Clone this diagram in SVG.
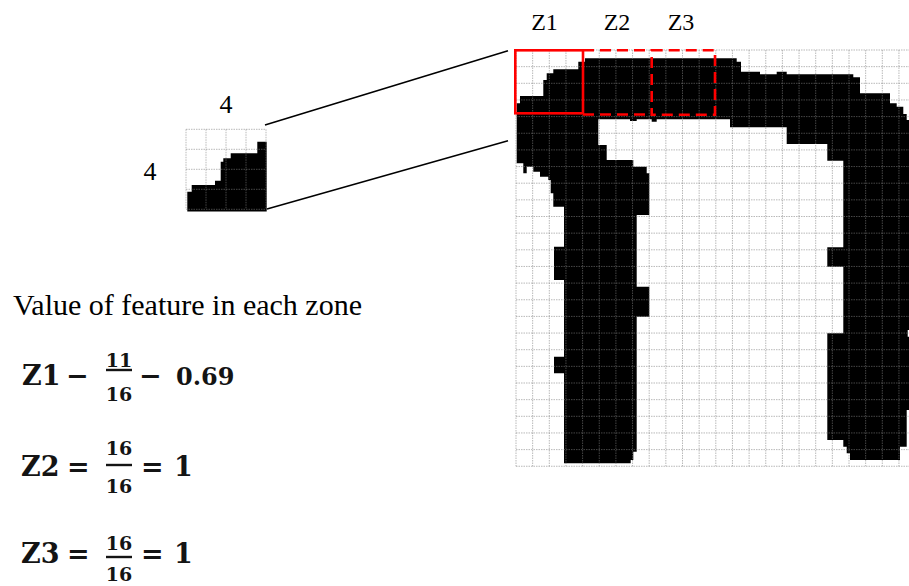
<svg xmlns="http://www.w3.org/2000/svg" width="909" height="586" viewBox="0 0 909 586">
  <style>
    .lbl { font-family: "Liberation Serif", "Times New Roman", serif; fill: #000; }
    .math { font-family: "DejaVu Serif", serif; font-weight: bold; fill: #141414; }
    .frac { font-family: "DejaVu Serif", serif; font-weight: bold; fill: #141414; font-size: 19px; text-anchor: middle; }
    .bar { stroke: #141414; stroke-width: 2.4; }
    .grid line { stroke: #808080; stroke-opacity: 0.55; stroke-width: 1; stroke-dasharray: 1.5 1; }
    .ink { fill: #000; }
    .zone { fill: none; stroke: #ff0000; stroke-width: 2.6; }
    .zone-dash { fill: none; stroke: #ff0000; stroke-width: 2.6; stroke-dasharray: 11 6; }
    .link { stroke: #000; stroke-width: 1.6; fill: none; }
  </style>

  <rect width="909" height="586" fill="#fff"/>

  <!-- magnified 4x4 zone -->
  <g id="zone-detail">
    <polygon class="ink" points="257.3,141.7 266.7,141.7 266.7,211.5 187.3,211.5 187.3,191.7 191.7,191.7 191.7,185 215,185 215,180.7 220.7,180.7 220.7,161.7 223.3,161.7 223.3,158.3 230.7,158.3 230.7,153.3 257.3,153.3"/>
    <g class="grid">
      <line x1="186" y1="129.3" x2="186" y2="209.3"/>
      <line x1="206" y1="129.3" x2="206" y2="209.3"/>
      <line x1="226" y1="129.3" x2="226" y2="209.3"/>
      <line x1="246" y1="129.3" x2="246" y2="209.3"/>
      <line x1="266" y1="129.3" x2="266" y2="209.3"/>
      <line x1="186" y1="129.3" x2="266" y2="129.3"/>
      <line x1="186" y1="149.3" x2="266" y2="149.3"/>
      <line x1="186" y1="169.3" x2="266" y2="169.3"/>
      <line x1="186" y1="189.3" x2="266" y2="189.3"/>
      <line x1="186" y1="209.3" x2="266" y2="209.3"/>
    </g>
    <text class="lbl" x="226" y="113" font-size="26" text-anchor="middle">4</text>
    <text class="lbl" x="150" y="180" font-size="26" text-anchor="middle">4</text>
  </g>

  <!-- full character on the zone grid -->
  <g id="character-grid">
    <polygon class="ink" points="585,58.3 736.7,58.3 736.7,61.7 741,61.7 741,71.7 760,71.7 760,74.3 776.7,74.3 776.7,71.7 786.7,71.7 786.7,74.3 853.3,74.3 853.3,77.3 860,77.3 860,93.3 890,93.3 890,103.3 896.7,103.3 896.7,106.7 903.3,106.7 903.3,114 906.7,114 906.7,120 909,120 909,330 907.7,330 907.7,336.7 909,336.7 909,410 906.7,410 906.7,446.7 900,446.7 900,460 850,460 850,453.3 846.7,453.3 846.7,446.7 843.3,446.7 843.3,440 827.3,440 827.3,333.3 843.3,333.3 843.3,266.7 827.3,266.7 827.3,247.3 843.3,247.3 843.3,160.7 827.3,160.7 827.3,144 786.7,144 786.7,127.3 730,127.3 730,119.3 656.7,119.3 656.7,121.7 651.7,121.7 651.7,119.3 636.7,119.3 636.7,121 630,121 630,119.3 598.3,119.3 598.3,145 606.7,145 606.7,160 633.3,160 633.3,166.7 646.7,166.7 646.7,173.3 649.3,173.3 649.3,215 636.7,215 636.7,286.7 649.3,286.7 649.3,316.7 636.7,316.7 636.7,451.7 633.3,451.7 633.3,460 630.7,460 630.7,463.3 564,463.3 564,373.3 554,373.3 554,356.7 564,356.7 564,280 554,280 554,246.7 564,246.7 564,206.7 553.3,206.7 553.3,193.3 550.7,193.3 550.7,180 548.3,180 548.3,176.7 540,176.7 540,171.7 533.3,171.7 533.3,166.7 526.7,166.7 526.7,173.3 523.3,173.3 523.3,163.3 516.7,163.3 516.7,103.3 520,103.3 520,96 543.3,96 543.3,80 546.7,80 546.7,73.3 553.3,73.3 553.3,69.3 578.3,69.3 578.3,61.7 585,61.7"/>
    <g class="grid">
      <line x1="516" y1="50" x2="516" y2="466.3"/>
      <line x1="532.65" y1="50" x2="532.65" y2="466.3"/>
      <line x1="549.3" y1="50" x2="549.3" y2="466.3"/>
      <line x1="565.95" y1="50" x2="565.95" y2="466.3"/>
      <line x1="582.6" y1="50" x2="582.6" y2="466.3"/>
      <line x1="599.25" y1="50" x2="599.25" y2="466.3"/>
      <line x1="615.9" y1="50" x2="615.9" y2="466.3"/>
      <line x1="632.55" y1="50" x2="632.55" y2="466.3"/>
      <line x1="649.2" y1="50" x2="649.2" y2="466.3"/>
      <line x1="665.85" y1="50" x2="665.85" y2="466.3"/>
      <line x1="682.5" y1="50" x2="682.5" y2="466.3"/>
      <line x1="699.15" y1="50" x2="699.15" y2="466.3"/>
      <line x1="715.8" y1="50" x2="715.8" y2="466.3"/>
      <line x1="732.45" y1="50" x2="732.45" y2="466.3"/>
      <line x1="749.1" y1="50" x2="749.1" y2="466.3"/>
      <line x1="765.75" y1="50" x2="765.75" y2="466.3"/>
      <line x1="782.4" y1="50" x2="782.4" y2="466.3"/>
      <line x1="799.05" y1="50" x2="799.05" y2="466.3"/>
      <line x1="815.7" y1="50" x2="815.7" y2="466.3"/>
      <line x1="832.35" y1="50" x2="832.35" y2="466.3"/>
      <line x1="849" y1="50" x2="849" y2="466.3"/>
      <line x1="865.65" y1="50" x2="865.65" y2="466.3"/>
      <line x1="882.3" y1="50" x2="882.3" y2="466.3"/>
      <line x1="898.95" y1="50" x2="898.95" y2="466.3"/>
      <line x1="516" y1="50" x2="909" y2="50"/>
      <line x1="516" y1="66.65" x2="909" y2="66.65"/>
      <line x1="516" y1="83.3" x2="909" y2="83.3"/>
      <line x1="516" y1="99.95" x2="909" y2="99.95"/>
      <line x1="516" y1="116.6" x2="909" y2="116.6"/>
      <line x1="516" y1="133.25" x2="909" y2="133.25"/>
      <line x1="516" y1="149.9" x2="909" y2="149.9"/>
      <line x1="516" y1="166.55" x2="909" y2="166.55"/>
      <line x1="516" y1="183.2" x2="909" y2="183.2"/>
      <line x1="516" y1="199.85" x2="909" y2="199.85"/>
      <line x1="516" y1="216.5" x2="909" y2="216.5"/>
      <line x1="516" y1="233.15" x2="909" y2="233.15"/>
      <line x1="516" y1="249.8" x2="909" y2="249.8"/>
      <line x1="516" y1="266.45" x2="909" y2="266.45"/>
      <line x1="516" y1="283.1" x2="909" y2="283.1"/>
      <line x1="516" y1="299.75" x2="909" y2="299.75"/>
      <line x1="516" y1="316.4" x2="909" y2="316.4"/>
      <line x1="516" y1="333.05" x2="909" y2="333.05"/>
      <line x1="516" y1="349.7" x2="909" y2="349.7"/>
      <line x1="516" y1="366.35" x2="909" y2="366.35"/>
      <line x1="516" y1="383" x2="909" y2="383"/>
      <line x1="516" y1="399.65" x2="909" y2="399.65"/>
      <line x1="516" y1="416.3" x2="909" y2="416.3"/>
      <line x1="516" y1="432.95" x2="909" y2="432.95"/>
      <line x1="516" y1="449.6" x2="909" y2="449.6"/>
      <line x1="516" y1="466.25" x2="909" y2="466.25"/>
    </g>
  </g>

  <!-- zone frames -->
  <g id="zone-z1">
    <rect class="zone" x="515.3" y="50.3" width="67.7" height="63"/>
    <text class="lbl" x="544.5" y="30" font-size="24" text-anchor="middle">Z1</text>
  </g>
  <g id="zone-z2">
    <path class="zone-dash" d="M583,50.3 H651.7 M583,114.5 H651.7"/>
    <text class="lbl" x="617" y="30" font-size="24" text-anchor="middle">Z2</text>
  </g>
  <g id="zone-z3">
    <rect class="zone-dash" x="651.7" y="50.3" width="63.3" height="64.5"/>
    <text class="lbl" x="681" y="30" font-size="24" text-anchor="middle">Z3</text>
  </g>

  <!-- magnification leader lines -->
  <g id="connectors">
    <line class="link" x1="265" y1="125" x2="508" y2="50.8"/>
    <line class="link" x1="267" y1="209" x2="508" y2="140.8"/>
  </g>

  <!-- zone feature values -->
  <g id="feature-values">
    <text class="lbl" x="13" y="315" font-size="30">Value of feature in each zone</text>

    <text class="math" x="22" y="385" font-size="27">Z1</text>
    <text class="math" x="66" y="385" font-size="27">−</text>
    <text class="frac" x="119" y="367">11</text>
    <line class="bar" x1="106" y1="370" x2="132" y2="370"/>
    <text class="frac" x="119" y="401">16</text>
    <text class="math" x="139" y="385" font-size="27">−</text>
    <text class="math" x="176" y="385" font-size="24">0.69</text>

    <text class="math" x="21" y="476" font-size="27">Z2</text>
    <text class="math" x="67" y="476" font-size="27">=</text>
    <text class="frac" x="119" y="455">16</text>
    <line class="bar" x1="106" y1="465" x2="132" y2="465"/>
    <text class="frac" x="119" y="493">16</text>
    <text class="math" x="141" y="476" font-size="27">=</text>
    <text class="math" x="174" y="476" font-size="27">1</text>

    <text class="math" x="21" y="563" font-size="27">Z3</text>
    <text class="math" x="67" y="563" font-size="27">=</text>
    <text class="frac" x="119" y="550">16</text>
    <line class="bar" x1="106" y1="557" x2="132" y2="557"/>
    <text class="frac" x="119" y="581">16</text>
    <text class="math" x="141" y="563" font-size="27">=</text>
    <text class="math" x="174" y="563" font-size="27">1</text>
  </g>
</svg>
